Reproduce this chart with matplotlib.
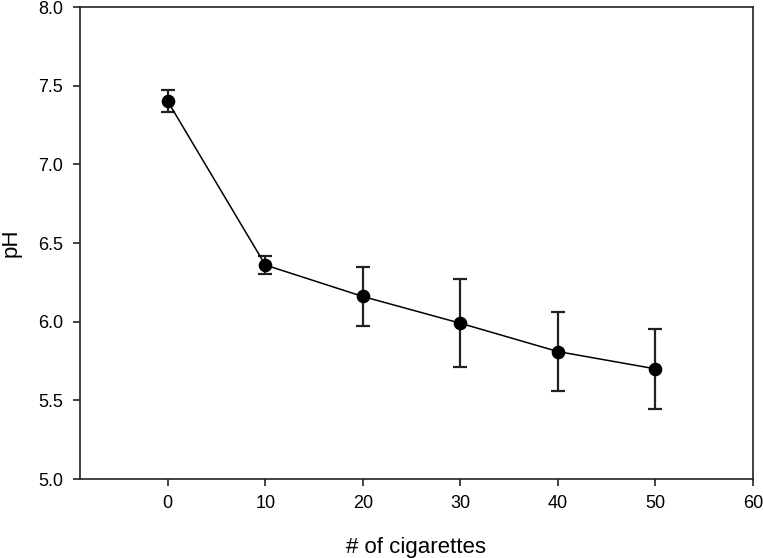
import matplotlib
matplotlib.use('Agg')
import matplotlib.pyplot as plt

# data
cigarettes = [0, 10, 20, 30, 40, 50]
ph_mean = [7.40, 6.36, 6.16, 5.99, 5.81, 5.70]
ph_err = [0.07, 0.06, 0.19, 0.28, 0.25, 0.255]

x_ticks = [0, 10, 20, 30, 40, 50, 60]
y_ticks = [5.0, 5.5, 6.0, 6.5, 7.0, 7.5, 8.0]

plt.rcParams['font.family'] = ['Liberation Sans', 'DejaVu Sans']

fig = plt.figure(figsize=(7.63, 5.58), dpi=100)
ax = fig.add_axes([80 / 763, 1 - 479 / 558, (753 - 80) / 763, (479 - 7) / 558])

ax.errorbar(cigarettes, ph_mean, yerr=ph_err, color='black', ecolor='#222222',
            marker='o', markersize=8.8, linewidth=1.1, elinewidth=1.6,
            capsize=5.2, capthick=1.6)

ax.set_xlim(-9, 60)
ax.set_ylim(5.0, 8.0)
ax.set_xticks(x_ticks)
ax.set_yticks(y_ticks)
ax.set_yticklabels(['%.1f' % v for v in y_ticks])

for s in ax.spines.values():
    s.set_linewidth(1.2)
    s.set_color('#222222')
ax.tick_params(direction='out', length=5, width=1.2, color='#222222',
               labelsize=13)
ax.tick_params(axis='x', pad=6.5)
ax.tick_params(axis='y', pad=7)

ax.set_xlabel('# of cigarettes', fontsize=16)
ax.set_ylabel('pH', fontsize=16)
ax.xaxis.set_label_coords(0.5, -0.122)
# keep the label just inside the left edge
ax.yaxis.set_label_coords(-0.087, 0.5)

fig.savefig('out.png', dpi=100)
